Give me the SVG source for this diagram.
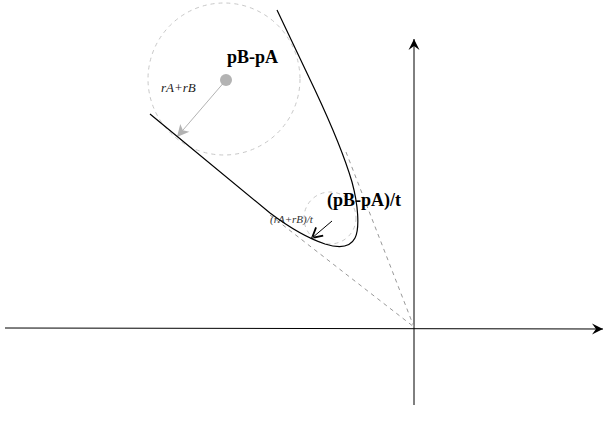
<svg xmlns="http://www.w3.org/2000/svg" width="608" height="427" viewBox="0 0 608 427">
<style>
.dash{fill:none;stroke:#c8c8c8;stroke-width:1;stroke-dasharray:4 4}
.dashd{fill:none;stroke:#999;stroke-width:1;stroke-dasharray:4 4}
.lbl{font-family:"Liberation Serif","Times New Roman",serif;fill:#000}
</style>
<defs>
<marker id="ah" markerUnits="userSpaceOnUse" markerWidth="14" markerHeight="14" viewBox="-12 -7 14 14" refX="0" refY="0" orient="auto">
<path d="M0,0 L-11,-5.5 L-7,0 L-11,5.5 Z" fill="#000"/>
</marker>
<marker id="ag" markerUnits="userSpaceOnUse" markerWidth="16" markerHeight="16" viewBox="-14 -8 16 16" refX="0" refY="0" orient="auto">
<path d="M0,0 L-12,-6 L-9,0 L-12,6 Z" fill="#b3b3b3"/>
</marker>
<marker id="ao" markerUnits="userSpaceOnUse" markerWidth="14" markerHeight="14" viewBox="-12 -7 14 14" refX="0" refY="0" orient="auto">
<path d="M-10,-5.5 L0,0 L-10,5.5" fill="none" stroke="#000" stroke-width="1.8"/>
</marker>
</defs>
<rect width="608" height="427" fill="#fff"/>
<g id="connectors">
<line id="x-axis" x1="5" y1="328" x2="603" y2="329" stroke="#000" stroke-width="1" marker-end="url(#ah)"/>
<line id="y-axis" x1="414" y1="405" x2="414" y2="39" stroke="#000" stroke-width="1" marker-end="url(#ah)"/>
<line id="cone-right" class="dashd" x1="346" y1="152" x2="414" y2="327"/>
<line id="cone-left" class="dashd" x1="270" y1="215" x2="414" y2="327"/>
<line id="radius-arrow" x1="226" y1="80" x2="177" y2="137" stroke="#b3b3b3" stroke-width="1" marker-end="url(#ag)"/>
<line id="small-radius-arrow" x1="332" y1="221" x2="312" y2="238" stroke="#000" stroke-width="1" marker-end="url(#ao)"/>
</g>
<g id="big-circle">
<circle class="dash" cx="224" cy="79" r="76"/>
<circle cx="226" cy="80" r="6" fill="#b3b3b3"/>
<text class="lbl" x="227" y="63" font-size="18" font-weight="bold">pB-pA</text>
<text class="lbl" x="161" y="92" font-size="13" font-style="italic" style="fill:#222">rA+rB</text>
</g>
<g id="small-circle">
<circle class="dash" cx="330" cy="218" r="26"/>
<text class="lbl" x="327" y="206" font-size="18" font-weight="bold">(pB-pA)/t</text>
<text class="lbl" x="270" y="223" font-size="11" font-style="italic" style="fill:#333">(rA+rB)/t</text>
</g>
<g id="obstacle-boundary">
<path d="M277,10 L315,90 C330,122 345,158 352,182 C358,204 360,228 355,238 C350,248 338,248 325,244 C310,239 290,228 270,213 L150,114" fill="none" stroke="#000" stroke-width="1.2"/>
</g>
</svg>
